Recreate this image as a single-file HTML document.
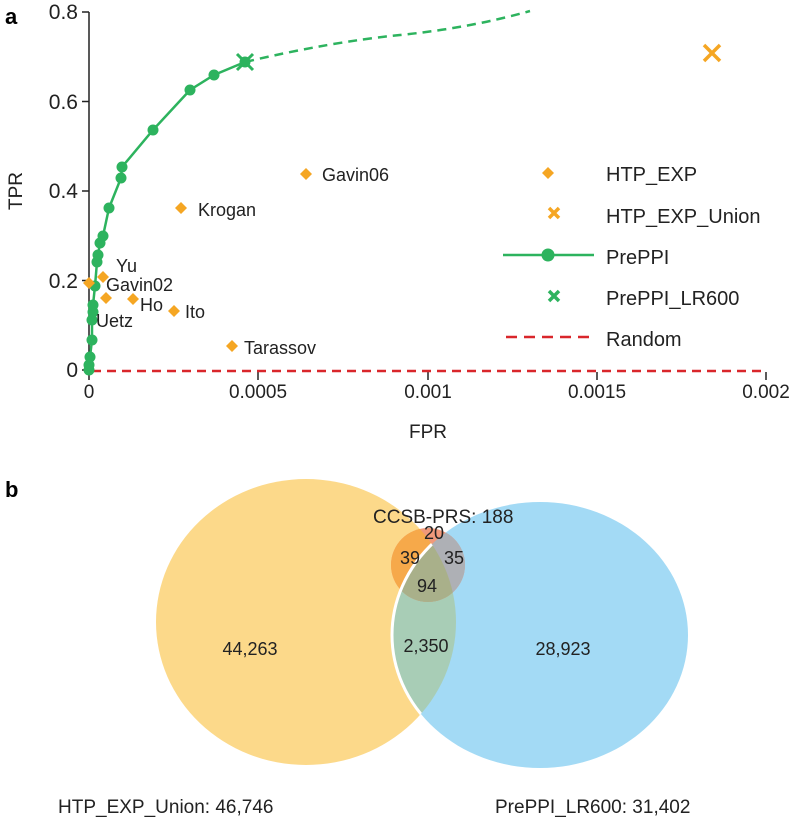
<!DOCTYPE html>
<html><head><style>body{margin:0;background:#fff}svg{display:block;font-family:"Liberation Sans",sans-serif}</style></head>
<body>
<svg width="800" height="821" viewBox="0 0 800 821">
<defs>
<clipPath id="cy"><ellipse cx="306" cy="622" rx="150" ry="143"/></clipPath>
<clipPath id="cc"><circle cx="428" cy="565" r="37"/></clipPath>
</defs>
<text x="5" y="24" font-size="22" font-weight="bold">a</text>
<line x1="89" y1="12" x2="89" y2="370" stroke="#222" stroke-width="1.5"/>
<g stroke="#222" stroke-width="1.5"><line x1="82" y1="12" x2="89" y2="12"/><line x1="82" y1="101.5" x2="89" y2="101.5"/><line x1="82" y1="191" x2="89" y2="191"/><line x1="82" y1="280.5" x2="89" y2="280.5"/><line x1="82" y1="370" x2="89" y2="370"/>
<line x1="89" y1="372" x2="89" y2="380"/><line x1="258" y1="372" x2="258" y2="380"/><line x1="428" y1="372" x2="428" y2="380"/><line x1="597" y1="372" x2="597" y2="380"/><line x1="766" y1="372" x2="766" y2="380"/></g>
<g font-size="21" fill="#222" text-anchor="end"><text x="78" y="19">0.8</text><text x="78" y="109">0.6</text><text x="78" y="198">0.4</text><text x="78" y="288">0.2</text><text x="78" y="377">0</text></g>
<g font-size="19" fill="#222" text-anchor="middle"><text x="89" y="398">0</text><text x="258" y="398">0.0005</text><text x="428" y="398">0.001</text><text x="597" y="398">0.0015</text><text x="766" y="398">0.002</text><text x="428" y="438">FPR</text></g>
<text x="22" y="191" font-size="19" fill="#222" text-anchor="middle" transform="rotate(-90 22 191)">TPR</text>
<line x1="92" y1="371" x2="766" y2="371" stroke="#d9262b" stroke-width="2.5" stroke-dasharray="9,6"/>
<path d="M245,62 Q330,42 400,35 T530,11" fill="none" stroke="#2db35e" stroke-width="2.5" stroke-dasharray="9,6"/>
<polyline points="89,370 89,365 90,357 92,340 92,320 93,312 93,305 95,286 97,262 98,255 100,243 103,236 109,208 121,178 122,167 153,130 190,90 214,75 245,62" fill="none" stroke="#2db35e" stroke-width="2.5"/>
<g fill="#2db35e"><circle cx="89" cy="370" r="5.5"/><circle cx="89" cy="365" r="5.5"/><circle cx="90" cy="357" r="5.5"/><circle cx="92" cy="340" r="5.5"/><circle cx="92" cy="320" r="5.5"/><circle cx="93" cy="312" r="5.5"/><circle cx="93" cy="305" r="5.5"/><circle cx="95" cy="286" r="5.5"/><circle cx="97" cy="262" r="5.5"/><circle cx="98" cy="255" r="5.5"/><circle cx="100" cy="243" r="5.5"/><circle cx="103" cy="236" r="5.5"/><circle cx="109" cy="208" r="5.5"/><circle cx="121" cy="178" r="5.5"/><circle cx="122" cy="167" r="5.5"/><circle cx="153" cy="130" r="5.5"/><circle cx="190" cy="90" r="5.5"/><circle cx="214" cy="75" r="5.5"/><circle cx="245" cy="62" r="5.5"/></g>
<path d="M237,54 L253,70 M253,54 L237,70" stroke="#2db35e" stroke-width="3"/>
<g fill="#f5a623">
<path d="M89,277 l6,6 -6,6 -6,-6z"/><path d="M103,271 l6,6 -6,6 -6,-6z"/><path d="M106,292 l6,6 -6,6 -6,-6z"/><path d="M133,293 l6,6 -6,6 -6,-6z"/><path d="M174,305 l6,6 -6,6 -6,-6z"/><path d="M232,340 l6,6 -6,6 -6,-6z"/><path d="M181,202 l6,6 -6,6 -6,-6z"/><path d="M306,168 l6,6 -6,6 -6,-6z"/><path d="M548,167 l6,6 -6,6 -6,-6z"/></g>
<path d="M704,45 L720,61 M720,45 L704,61 M549,208 L559,218 M559,208 L549,218" stroke="#f5a623" stroke-width="3.5"/>
<g font-size="18" fill="#222"><text x="116" y="272">Yu</text><text x="106" y="291">Gavin02</text><text x="96" y="327">Uetz</text><text x="140" y="311">Ho</text><text x="185" y="318">Ito</text><text x="198" y="216">Krogan</text><text x="322" y="181">Gavin06</text><text x="244" y="354">Tarassov</text></g>
<g font-size="20" fill="#222"><text x="606" y="181">HTP_EXP</text><text x="606" y="223">HTP_EXP_Union</text><text x="606" y="264">PrePPI</text><text x="606" y="305">PrePPI_LR600</text><text x="606" y="346">Random</text></g>
<line x1="503" y1="255" x2="594" y2="255" stroke="#2db35e" stroke-width="2.5"/><circle cx="548" cy="255" r="6.5" fill="#2db35e"/>
<path d="M549,291 L559,301 M559,291 L549,301" stroke="#2db35e" stroke-width="3.5"/>
<line x1="506" y1="337" x2="590" y2="337" stroke="#d9262b" stroke-width="2.5" stroke-dasharray="11,7"/>
<text x="5" y="497" font-size="22" font-weight="bold">b</text>
<ellipse cx="306" cy="622" rx="150" ry="143" fill="#fcd98a"/>
<ellipse cx="540" cy="635" rx="148" ry="133" fill="#a3daf5"/>
<ellipse cx="540" cy="635" rx="148" ry="133" fill="#a8cdb6" clip-path="url(#cy)"/>
<g clip-path="url(#cc)"><rect x="380" y="520" width="100" height="100" fill="#f0997a"/>
<ellipse cx="306" cy="622" rx="150" ry="143" fill="#f6a94a"/><ellipse cx="540" cy="635" rx="148" ry="133" fill="#aeb0b5"/>
<g clip-path="url(#cy)"><ellipse cx="540" cy="635" rx="148" ry="133" fill="#a9b08a"/></g></g>
<ellipse cx="540" cy="635" rx="148" ry="133" fill="none" stroke="#fff" stroke-width="3" clip-path="url(#cy)"/>
<g font-size="18" fill="#222" text-anchor="middle"><text x="434" y="539">20</text><text x="410" y="564">39</text><text x="454" y="564">35</text><text x="427" y="592">94</text><text x="426" y="652">2,350</text><text x="250" y="655">44,263</text><text x="563" y="655">28,923</text></g>
<g font-size="19" fill="#222"><text x="373" y="523">CCSB-PRS: 188</text><text x="58" y="813">HTP_EXP_Union: 46,746</text><text x="495" y="813">PrePPI_LR600: 31,402</text></g>
</svg>
</body></html>
